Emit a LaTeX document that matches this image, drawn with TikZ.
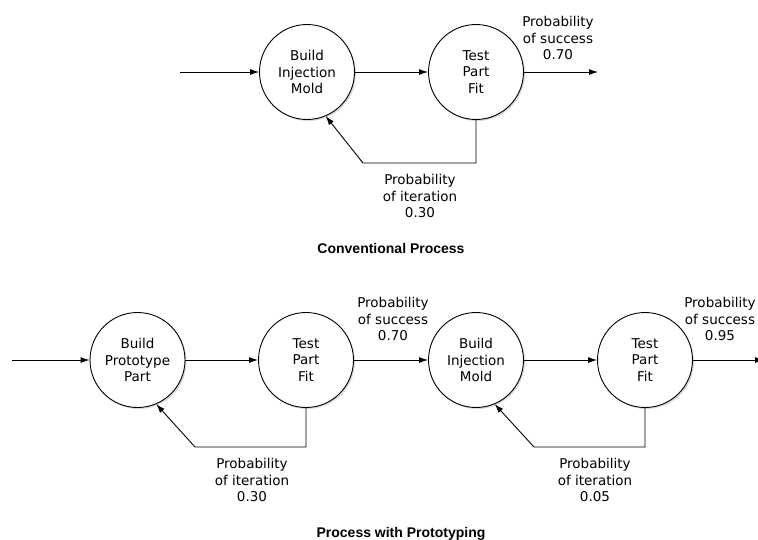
\documentclass[tikz,border=0pt]{standalone}
\usepackage{fontspec}
\setmainfont{DejaVu Sans}
\newfontfamily\titlefont{Liberation Sans}
\usetikzlibrary{arrows.meta,shadows}

\tikzset{
  stage/.style={circle, draw, line width=0.9pt, fill=white, minimum size=95pt,
    inner sep=0pt, align=center, font=\fontsize{13.5}{16.5}\selectfont,
    drop shadow={shadow xshift=1.5pt, shadow yshift=-1.5pt, opacity=0.3}},
  flow/.style={draw, line width=0.9pt, -{Latex[length=9pt,width=6pt]}},
  loop/.style={flow, line join=miter},
  prob/.style={align=center, font=\fontsize{13.5}{16.5}\selectfont},
  caption/.style={anchor=base, font=\titlefont\fontsize{14}{16}\selectfont\bfseries}
}

\begin{document}
\begin{tikzpicture}[x=1pt,y=-1pt]
    \useasboundingbox (0,0) rectangle (758,539);

    \node[stage] (b1) at (307,72)    {Build\\Injection\\Mold};
    \node[stage] (t1) at (476,72)    {Test\\Part\\Fit};
    \coordinate (in1)  at (180,72);
    \coordinate (out1) at (598,72);
    \coordinate (k1)   at (363,163);

    \draw[flow] (in1) -- (b1);
    \draw[flow] (b1) -- (t1);
    \draw[flow] (t1) -- (out1);
    \draw[loop] (t1.south) |- (k1) -- (b1.-67);

    \node[prob]    (s1) at (558,38)  {Probability\\of success\\0.70};
    \node[prob]    (i1) at (420,196) {Probability\\of iteration\\0.30};
    \node[caption] (c1) at (391,253) {Conventional Process};

    \node[stage] (b2) at (137.5,360) {Build\\Prototype\\Part};
    \node[stage] (t2) at (306,360)   {Test\\Part\\Fit};
    \node[stage] (b3) at (476,360)   {Build\\Injection\\Mold};
    \node[stage] (t3) at (645,360)   {Test\\Part\\Fit};
    \coordinate (in2)  at (12,360);
    \coordinate (out3) at (764,360);
    \coordinate (k2)   at (195,447);
    \coordinate (k3)   at (534,447);

    \draw[flow] (in2) -- (b2);
    \draw[flow] (b2) -- (t2);
    \draw[flow] (t2) -- (b3);
    \draw[flow] (b3) -- (t3);
    \draw[flow] (t3) -- (out3);
    \draw[loop] (t2.south) |- (k2) -- (b2.-67);
    \draw[loop] (t3.south) |- (k3) -- (b3.-67);

    \node[prob]    (s2) at (393,319) {Probability\\of success\\0.70};
    \node[prob]    (s3) at (720,319) {Probability\\of success\\0.95};
    \node[prob]    (i2) at (252,480) {Probability\\of iteration\\0.30};
    \node[prob]    (i3) at (595,480) {Probability\\of iteration\\0.05};
    \node[caption] (c2) at (401,537) {Process with Prototyping};
\end{tikzpicture}
\end{document}
